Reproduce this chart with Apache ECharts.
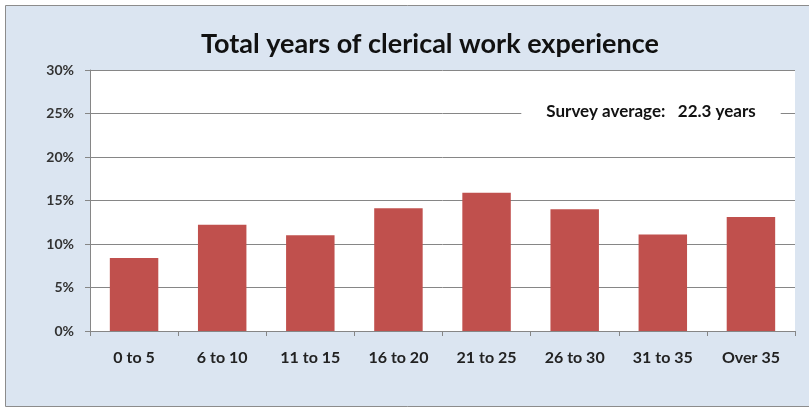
<!DOCTYPE html>
<html>
<head>
<meta charset="utf-8">
<script src="https://cdn.jsdelivr.net/npm/echarts@6/dist/echarts.min.js"></script>
<style>
  html, body { margin: 0; padding: 0; background: #fff; }
  #chart { width: 809px; height: 408px; }
</style>
</head>
<body>
<div id="chart"></div>
<script>
const categories = ['0 to 5', '6 to 10', '11 to 15', '16 to 20', '21 to 25', '26 to 30', '31 to 35', 'Over 35'];
const shares = [8.4, 12.2, 11.0, 14.1, 15.9, 14.0, 11.1, 13.1];
const yTicks = { min: 0, max: 30, step: 5 };
const noteText = 'Survey average:   22.3 years';

const font = 'Lato, "Open Sans", sans-serif';
const chart = echarts.init(document.getElementById('chart'));

chart.setOption({
  backgroundColor: '#fff',
  animation: false,
  graphic: [
    {
      // outer chart panel
      type: 'rect',
      z: -10,
      shape: { x: 5.5, y: 5.5, width: 830, height: 401 },
      style: { fill: '#dbe5f1', stroke: '#8c8c8c', lineWidth: 1 },
    },
    {
      // average note, sits on a white patch over the 25% gridline
      type: 'text',
      z: 10,
      x: 651,
      y: 112,
      style: {
        text: noteText,
        font: 'bold 17px ' + font,
        fill: '#111',
        align: 'center',
        verticalAlign: 'middle',
        backgroundColor: '#fff',
        padding: [5, 25, 5, 25],
      },
    },
  ],
  title: {
    text: 'Total years of clerical work experience',
    left: 425,
    top: 26,
    textAlign: 'center',
    textStyle: { fontFamily: font, fontWeight: 'bold', fontSize: 27, color: '#111' },
  },
  grid: {
    left: 90, right: 14, top: 70, bottom: 77,
    show: true, backgroundColor: '#fff', borderWidth: 0,
  },
  xAxis: {
    type: 'category',
    data: categories,
    axisLine: { lineStyle: { color: '#868686' } },
    axisTick: { show: true, length: 5, lineStyle: { color: '#868686' } },
    axisLabel: { margin: 19, fontFamily: font, fontWeight: 'bold', fontSize: 16, color: '#222' },
  },
  yAxis: {
    type: 'value',
    min: yTicks.min,
    max: yTicks.max,
    interval: yTicks.step,
    axisLine: { show: true, lineStyle: { color: '#868686' } },
    axisTick: { show: true, length: 5, lineStyle: { color: '#868686' } },
    splitLine: { lineStyle: { color: '#868686' } },
    axisLabel: { margin: 16, formatter: '{value}%', fontFamily: font, fontWeight: 'bold', fontSize: 14, color: '#333' },
  },
  series: [{
    type: 'bar',
    data: shares,
    barCategoryGap: '45%',
    itemStyle: { color: '#c0504d' },
  }],
});
</script>
</body>
</html>
